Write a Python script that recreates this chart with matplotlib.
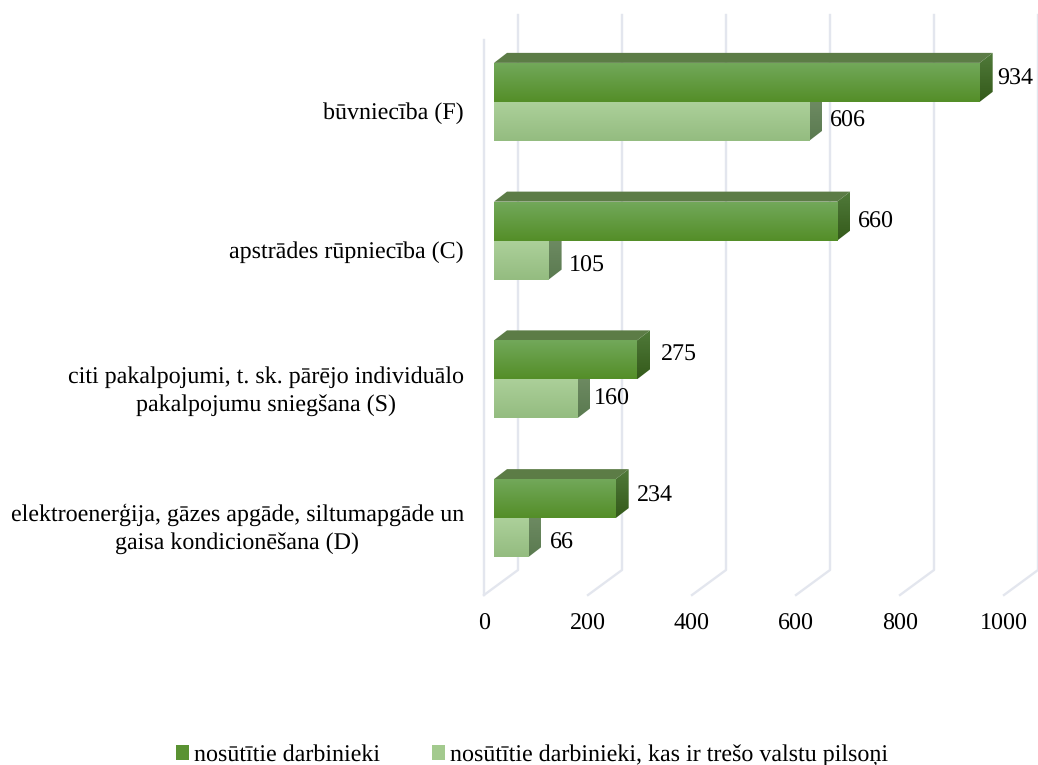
"""Horizontal pseudo-3D bars: posted workers by sector."""

import matplotlib.pyplot as plt
import numpy as np
from matplotlib.patches import Patch, Polygon

plt.rcParams["font.family"] = ["Liberation Serif", "DejaVu Serif"]
plt.rcParams["text.hinting"] = "no_hinting"
plt.rcParams["text.hinting_factor"] = 1

categories = [
    "būvniecība (F)",
    "apstrādes rūpniecība (C)",
    "citi pakalpojumi, t. sk. pārējo individuālo\npakalpojumu sniegšana (S)",
    "elektroenerģija, gāzes apgāde, siltumapgāde un\ngaisa kondicionēšana (D)",
]
posted = [934, 660, 275, 234]
posted_third = [606, 105, 160, 66]
series_names = ["nosūtītie darbinieki", "nosūtītie darbinieki, kas ir trešo valstu pilsoņi"]
x_ticks = [0, 200, 400, 600, 800, 1000]

W, H = 1038, 765
PX_X = 520 / 1000  # pixels per value unit
PX_Y = 555 / 4  # pixels per category band
FONT = 17
GRID = "#e3e6ee"

fig = plt.figure(figsize=(W / 100, H / 100), dpi=100)
ax = fig.add_axes([484 / W, (H - 595) / H, 520 / W, 555 / H])
ax.axis("off")

dx = lambda px: px / PX_X
dy = lambda px: px / PX_Y

# --- walls and floor ---
wall_x, wall_y = dx(34), dy(25)
ax.plot([0, 0], [0, 4], color=GRID, lw=1.7, clip_on=False, zorder=1)
for v in x_ticks:
    ax.plot([v, v + wall_x, v + wall_x], [4, 4 - wall_y, -wall_y],
            color=GRID, lw=1.7, clip_on=False, zorder=1)


def gradient(x0, x1, y0, y1, top, bottom, clip=None):
    cols = np.array([top, bottom], dtype=float) / 255
    ramp = np.linspace(0, 1, 64)[:, None, None]
    img = cols[0] + (cols[1] - cols[0]) * ramp
    im = ax.imshow(img, extent=(x0, x1, y1, y0), aspect="auto", zorder=3,
                   interpolation="bilinear")
    if clip is not None:
        im.set_clip_path(Polygon(clip, transform=ax.transData))
    return im


def bar3d(value, y_top, height, front, side, top_col):
    x0 = dx(10)
    x1 = value + x0
    ddx, ddy = dx(13), dy(10)
    y_bot = y_top + height
    ax.add_patch(Polygon([(x0, y_top), (x0 + ddx, y_top - ddy), (x1 + ddx, y_top - ddy), (x1, y_top)],
                         facecolor=top_col, edgecolor="none", zorder=3, clip_on=False))
    gradient(x1, x1 + ddx, y_top - ddy, y_bot, side[0], side[1],
             clip=[(x1, y_top), (x1 + ddx, y_top - ddy), (x1 + ddx, y_bot - ddy), (x1, y_bot)])
    gradient(x0, x1, y_top, y_bot, front[0], front[1])


bar_h = dy(39)
shift = dy(7.5)
dark_front = ((114, 168, 90), (84, 142, 40))
dark_side = ((80, 122, 58), (52, 90, 26))
light_front = ((172, 208, 154), (148, 188, 128))
light_side = ((114, 142, 102), (90, 122, 80))

for i in range(len(categories)):
    mid = i + 0.5 - shift
    bar3d(posted_third[i], mid, bar_h, light_front, light_side, "#5c7c46")
    bar3d(posted[i], mid - bar_h, bar_h, dark_front, dark_side, "#5c7c46")

ax.set_xlim(0, 1000)
ax.set_ylim(4, 0)

# --- value labels, nudged by hand in pixels ---
dark_nudge = [(18, -23), (21, -19), (24, -24), (21, -22)]
light_nudge = [(21, 19), (20, 25), (17, 20), (22, 25)]
for i in range(len(categories)):
    mid = i + 0.5 - shift
    for val, (nx, ny) in ((posted[i], dark_nudge[i]), (posted_third[i], light_nudge[i])):
        ax.text(val + dx(10 + nx), mid + dy(ny), str(val), fontsize=FONT,
                va="center", ha="left", clip_on=False)

# --- category and tick labels ---
cat_y = [113, 252, 391, 529]
for name, py in zip(categories, cat_y):
    fig.text(464 / W, 1 - py / H, name, fontsize=FONT, ha="right", va="center",
             multialignment="center", linespacing=1.36)
for v in x_ticks:
    ax.text(v, 4 + dy(29), str(v), fontsize=FONT, ha="center", va="center", clip_on=False)

handles = [Patch(facecolor="#5a9232", edgecolor="none", label=series_names[0]),
           Patch(facecolor="#a3ca8e", edgecolor="none", label=series_names[1])]
fig.legend(handles=handles, loc="center", bbox_to_anchor=(532 / W, 1 - 755 / H), ncol=2,
           frameon=False, fontsize=FONT, handlelength=0.55, handleheight=0.55,
           handletextpad=0.21, columnspacing=2.17, borderpad=0)

fig.savefig("out.png", dpi=100)
